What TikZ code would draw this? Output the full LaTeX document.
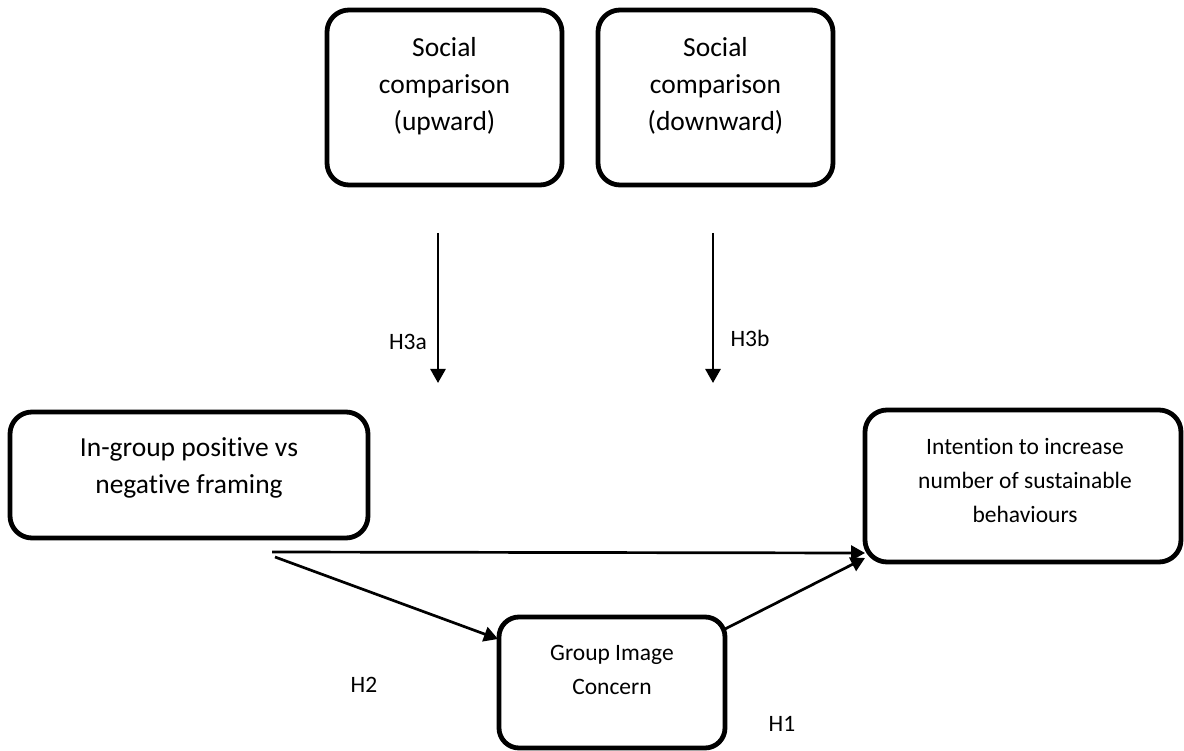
\documentclass[tikz,border=0pt]{standalone}
\usepackage{fontspec}
\setmainfont{Carlito}[Ligatures=NoCommon]
\usetikzlibrary{arrows.meta}
\tikzset{
  roundbox/.style={draw=black, line width=4.8pt, rounded corners=22pt, rectangle, inner sep=0pt},
  bigtxt/.style={align=center, font=\fontsize{27.5}{37}\selectfont, inner sep=0pt},
  smalltxt/.style={align=center, font=\fontsize{23.5}{34}\selectfont, inner sep=0pt},
  hlabel/.style={font=\fontsize{23.5}{28}\selectfont, inner sep=0pt},
  conn/.style={line width=2.7pt, -{Triangle[length=14pt,width=15pt]}}
}
\begin{document}
\begin{tikzpicture}[x=1pt,y=-1pt]
\useasboundingbox (0,0) rectangle (1184,751);
% boxes
\node[roundbox, minimum width=235pt, minimum height=175pt] (up) at (444.5,97.5) {};
\node[bigtxt] (upt) at (444.5,86) {Social\\comparison\\(upward)};
\node[roundbox, minimum width=235pt, minimum height=175pt] (down) at (715.5,97.5) {};
\node[bigtxt] (downt) at (715.5,86) {Social\\comparison\\(downward)};
\node[roundbox, minimum width=358pt, minimum height=126pt] (frame) at (189,475) {};
\node[bigtxt] (framet) at (189,468) {In-group positive vs\\negative framing};
\node[roundbox, minimum width=316pt, minimum height=152pt] (intent) at (1023,486) {};
\node[smalltxt] (intentt) at (1025,481) {Intention to increase\\number of sustainable\\behaviours};
\node[roundbox, minimum width=226pt, minimum height=131pt, rounded corners=20pt] (gic) at (612,682.5) {};
\node[smalltxt] (gict) at (612,670) {Group Image\\Concern};
% connector end points
\coordinate (a3s) at (438,233);
\coordinate (a3e) at (438,383);
\coordinate (b3s) at (713,233);
\coordinate (b3e) at (713,383);
\coordinate (hs) at (272,552);
\coordinate (he) at (865,553);
\coordinate (ds) at (275,557);
\coordinate (de) at (498,639);
\coordinate (gs) at (725,629);
\coordinate (ge) at (865,558);
% connectors
\draw[conn] (a3s) -- (a3e);
\draw[conn] (b3s) -- (b3e);
\draw[conn] (hs) -- (he);
\draw[conn] (ds) -- (de);
\draw[conn] (gs) -- (ge);
% labels
\node[hlabel] (h3a) at (408,342) {H3a};
\node[hlabel] (h3b) at (750,338) {H3b};
\node[hlabel] (h2) at (364,685) {H2};
\node[hlabel] (h1) at (782,724) {H1};
\end{tikzpicture}
\end{document}
